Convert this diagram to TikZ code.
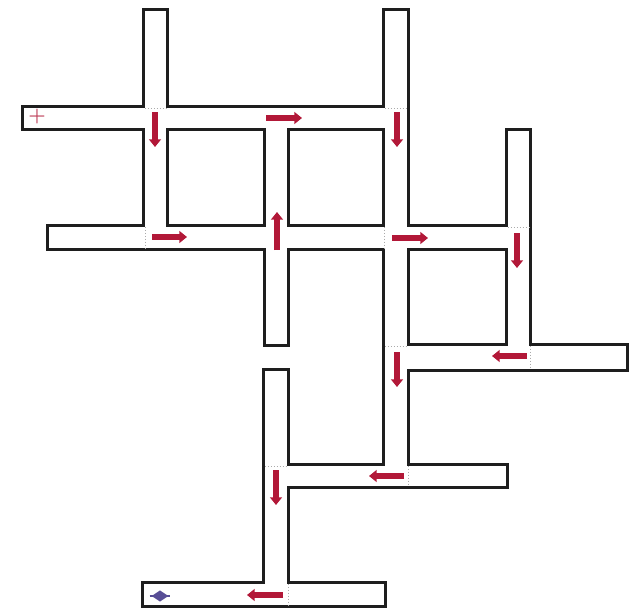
\documentclass[tikz,border=0pt]{standalone}
\usepackage{tikz}
\usetikzlibrary{arrows.meta,shapes.geometric}
\definecolor{wallgrey}{RGB}{30,30,30}
\definecolor{flowred}{RGB}{178,24,56}
\definecolor{poregrey}{RGB}{170,170,170}
\definecolor{cathblue}{RGB}{88,78,150}

\begin{document}
\begin{tikzpicture}[x=0.03cm, y=-0.03cm,
    wall/.style={draw=wallgrey, line width=5pt},
    lumen/.style={fill=white},
    pore/.style={draw=poregrey, dotted, line width=0.5pt},
    flow/.style={-{Triangle[length=6.5pt, width=10pt]}, line width=5pt, flowred}
]
\useasboundingbox (0,0) rectangle (631,611);
% channels as x1/y1/x2/y2
\def\channels{24/108/396/128, 145/11/166/240, 49/227/520/248, 266/118/287/344,
  385/11/407/476, 508/131/529/358, 396/346/626/369, 276/466/506/486,
  265/371/287/605, 144/584/384/605}
\foreach \a/\b/\c/\d in \channels \path[wall] (\a,\b) rectangle (\c,\d);
\foreach \a/\b/\c/\d in \channels \path[lumen] (\a,\b) rectangle (\c,\d);
% faint boundaries between segments
\foreach \a/\b/\c/\d in {145/108/166/108, 385/108/407/108, 145/227/145/248,
  384/227/384/248, 508/227/529/227, 530/346/530/369, 385/346/407/346,
  408/466/408/486, 265/466/287/466, 288/584/288/605}
  \draw[pore] (\a,\b) -- (\c,\d);
% flow direction
\foreach \a/\b/\c/\d in {155/112/155/147, 266/118/302/118, 397/112/397/147,
  152/237/187/237, 277/250/277/212, 392/238/428/238, 517/233/517/268,
  527/356/492/356, 397/352/397/387, 404/476/369/476, 276/470/276/505,
  283/595/247/595}
  \draw[flow] (\a,\b) -- (\c,\d);
% electrodes
\node[text=flowred!85, font=\fontsize{17}{17}\selectfont\bfseries, inner sep=0] (anode) at (37,117) {+};
\node[diamond, fill=cathblue, aspect=1.5, inner sep=0, minimum width=0.5cm,
      minimum height=0.34cm] (cathode) at (160,596) {};
\draw[cathblue, line width=0.9pt] ([xshift=-1.5pt]cathode.west) -- ([xshift=1.5pt]cathode.east);
\end{tikzpicture}
\end{document}
